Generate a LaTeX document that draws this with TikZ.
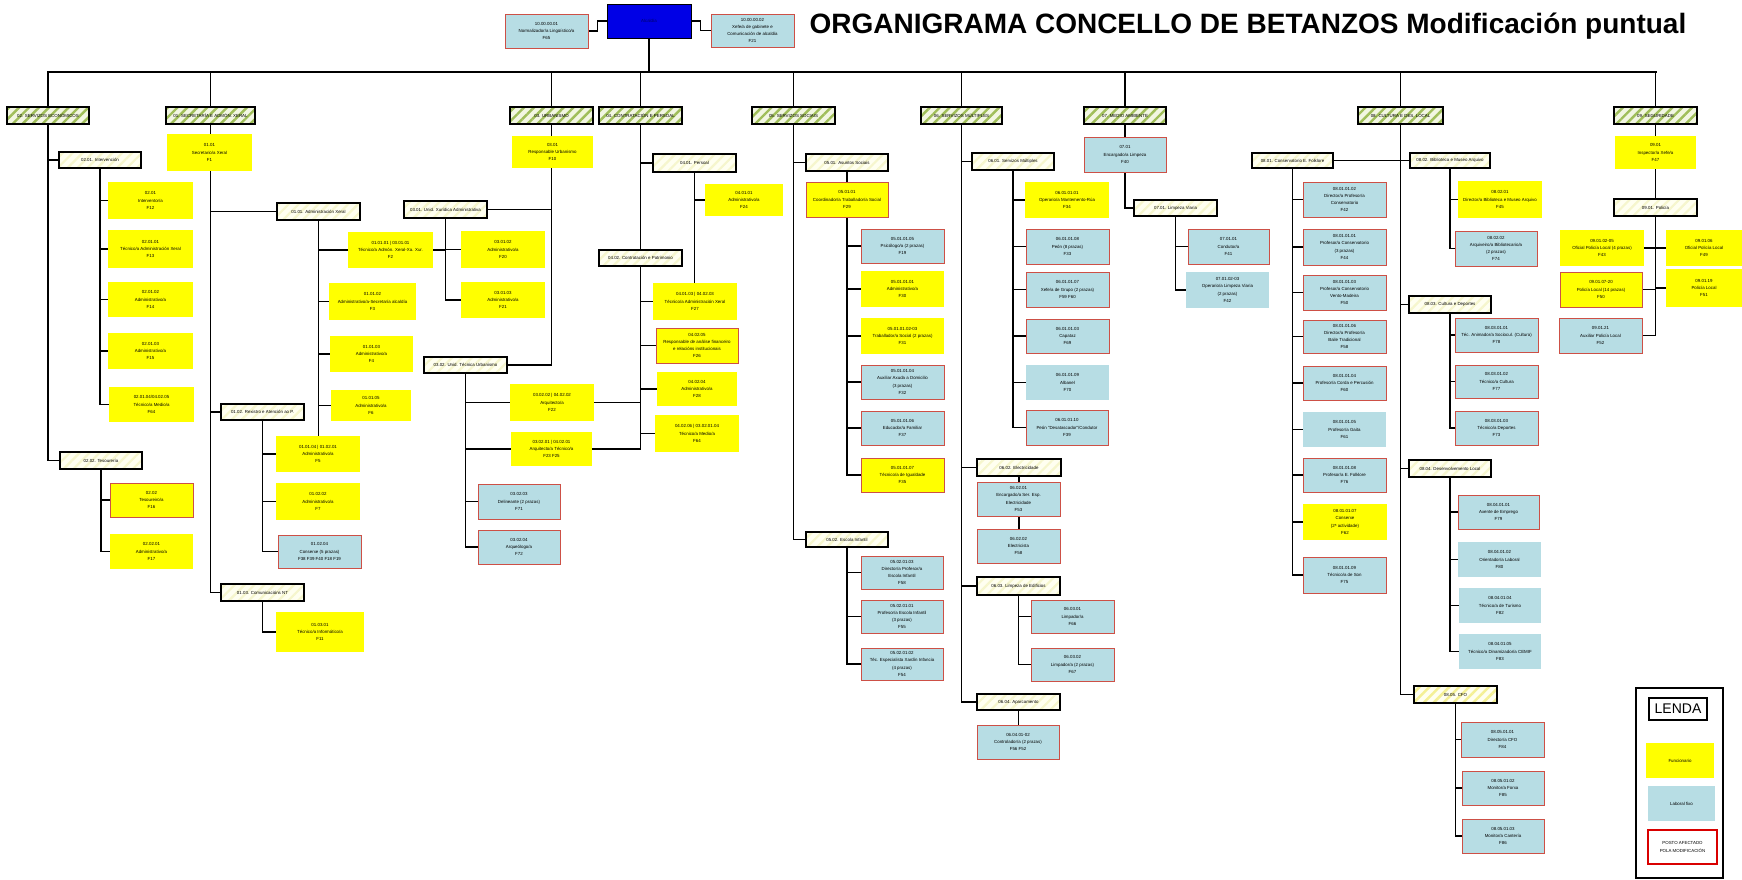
\documentclass[tikz,border=0pt]{standalone}
\usepackage{fontspec}
\setmainfont{Liberation Sans}
\usetikzlibrary{patterns.meta}
\pgfdeclarelayer{background}
\pgfsetlayers{background,main}
\definecolor{fyellow}{RGB}{255,255,0}
\definecolor{lblue}{RGB}{183,221,228}
\definecolor{redb}{RGB}{205,80,70}
\definecolor{alcblue}{RGB}{0,0,230}
\definecolor{depbg}{RGB}{242,246,226}
\definecolor{depst}{RGB}{160,190,90}
\definecolor{ivory}{RGB}{255,255,240}
\definecolor{subst}{RGB}{246,246,205}
\definecolor{cfost}{RGB}{244,240,150}
\newcommand{\boxfont}{\fontsize{4.4}{7.2}\selectfont}
\newcommand{\mkbox}[7]{\node[#1, minimum width={(#5)-(#3)}, minimum height={(#6)-(#4)}] (#2) at ({((#3)+(#5))/2},{((#4)+(#6))/2}) {#7};}
\tikzset{
 box/.style={rectangle, inner sep=0pt, align=center, font=\boxfont},
 fy/.style={box, fill=fyellow},
 fyr/.style={box, fill=fyellow, draw=redb, line width=0.8pt},
 lb/.style={box, fill=lblue, draw=redb, line width=0.8pt},
 lbn/.style={box, fill=lblue},
 sub/.style={box, preaction={fill=ivory}, pattern={Lines[angle=45,distance=7pt,line width=2.2pt]}, pattern color=subst, draw=black, line width=1.4pt},
 cfo/.style={box, preaction={fill=ivory}, pattern={Lines[angle=45,distance=7pt,line width=2.5pt]}, pattern color=cfost, draw=black, line width=1.4pt},
 dep/.style={box, preaction={fill=depbg}, pattern={Lines[angle=45,distance=7pt,line width=2.4pt]}, pattern color=depst, draw=black, line width=1.7pt},
 ln/.style={line width=1.8pt, line cap=rect},
 busln/.style={line width=2.6pt, line cap=rect},
}
\begin{document}
\begin{tikzpicture}[x=1pt,y=-1pt]
\useasboundingbox (0,0) rectangle (1742,879);
% ---- top
\node[anchor=base west, font=\fontsize{28}{30}\bfseries\selectfont] (title) at (806,33) {ORGANIGRAMA CONCELLO DE BETANZOS Modificación puntual};
\mkbox{box, fill=alcblue, draw=black, line width=0.8pt, text=blue!40!black}{alc}{607}{4}{691}{38}{Alcaldía}
\mkbox{lb}{norm}{505}{14}{588}{48}{10.00.00.01\\Normalizador/a Lingüístico/a\\F65}
\mkbox{lb}{xefe}{711}{14}{794}{47}{10.00.00.02\\Xefe/a de gabinete e\\Comunicación de alcaldía\\F21}
\coordinate (bus) at (649,72);
% ---- departments
\mkbox{dep}{d02}{7}{107}{89}{124}{02. SERVIZOS ECONÓMICOS}
\mkbox{dep}{d01}{166}{107}{255}{124}{01. SECRETARÍA E ADMÓN. XERAL}
\mkbox{dep}{d03}{510}{107}{593}{124}{03. URBANISMO}
\mkbox{dep}{d04}{599}{107}{682}{124}{04. CONTRATACIÓN E PERSOAL}
\mkbox{dep}{d05}{752}{107}{835}{124}{05. SERVIZOS SOCIAIS}
\mkbox{dep}{d06}{921}{107}{1002}{124}{06. SERVIZOS MÚLTIPLES}
\mkbox{dep}{d07}{1084}{107}{1166}{124}{07. MEDIO AMBIENTE}
\mkbox{dep}{d08}{1358}{107}{1443}{124}{08. CULTURA E DES. LOCAL}
\mkbox{dep}{d09}{1614}{107}{1697}{124}{09. SEGURIDADE}
% ---- 02
\mkbox{sub}{s0201}{59}{152}{141}{168}{02.01. Intervención}
\mkbox{fy}{c0201a}{108}{182}{193}{219}{02.01\\Interventor/a\\F12}
\mkbox{fy}{c0201b}{108}{230}{193}{268}{02.01.01\\Técnico/a Administración Xeral\\F13}
\mkbox{fy}{c0201c}{108}{282}{193}{317}{02.01.02\\Administrativo/a\\F14}
\mkbox{fy}{c0201d}{108}{333}{193}{369}{02.01.03\\Administrativo/a\\F15}
\mkbox{fy}{c0201e}{109}{387}{194}{422}{02.01.04/04.02.05\\Técnico/a Medio/a\\F64}
\mkbox{sub}{s0202}{60}{452}{142}{469}{02.02. Tesourería}
\mkbox{fyr}{c0202a}{110}{483}{193}{517}{02.02\\Tesoureiro/a\\F16}
\mkbox{fy}{c0202b}{110}{534}{193}{569}{02.02.01\\Administrativo/a\\F17}
% ---- 01
\mkbox{fy}{c0101}{167}{134}{252}{171}{01.01\\Secretario/a Xeral\\F1}
\mkbox{sub}{s0101}{277}{203}{360}{220}{01.01. Administración Xeral}
\mkbox{fy}{c0101a}{348}{232}{433}{268}{01.01.01 | 03.01.01\\Técnico/a Admón. Xeral-Xa. Xur.\\F2}
\mkbox{fy}{c0101b}{329}{283}{416}{320}{01.01.02\\Administrativo/a-Secretaría alcaldía\\F3}
\mkbox{fy}{c0101c}{330}{336}{413}{372}{01.01.03\\Administrativo/a\\F4}
\mkbox{fy}{c0101d}{331}{390}{411}{421}{01.01.05\\Administrativo/a\\F6}
\mkbox{sub}{s0102}{221}{404}{304}{420}{01.02. Rexistro e Atención ao P.}
\mkbox{fy}{c0102a}{276}{436}{360}{472}{01.01.04 | 01.02.01\\Administrativo/a\\F5}
\mkbox{fy}{c0102b}{276}{483}{360}{520}{01.02.02\\Administrativo/a\\F7}
\mkbox{lb}{c0102c}{278}{535}{361}{568}{01.02.04\\Conserxe (5 prazas)\\F38 F39 F40 F18 F19}
\mkbox{sub}{s0103}{221}{584}{304}{601}{01.03. Comunicacións NT}
\mkbox{fy}{c0103a}{276}{612}{364}{652}{01.03.01\\Técnico/a Informático/a\\F11}
% ---- 03
\mkbox{fy}{c0301}{512}{136}{593}{168}{03.01\\Responsable Urbanismo\\F10}
\mkbox{sub}{s0301}{404}{201}{487}{218}{03.01. Unid. Xurídica Administrativa}
\mkbox{fy}{c0301a}{461}{231}{545}{268}{03.01.02\\Administrativo/a\\F20}
\mkbox{fy}{c0301b}{461}{282}{545}{318}{03.01.03\\Administrativo/a\\F21}
\mkbox{sub}{s0302}{424}{357}{507}{373}{03.02. Unid. Técnica Urbanismo}
\mkbox{fy}{c0302a}{510}{384}{594}{421}{03.02.02 | 04.02.02\\Arquitecto/a\\F22}
\mkbox{fy}{c0302b}{511}{432}{592}{466}{03.02.01 | 04.02.01\\Arquitecto/a Técnico/a\\F23 F25}
\mkbox{lb}{c0302c}{478}{484}{560}{519}{03.02.03\\Delineante (2 prazas)\\F71}
\mkbox{lb}{c0302d}{478}{530}{560}{564}{03.02.04\\Arqueólogo/a\\F72}
% ---- 04
\mkbox{sub}{s0401}{653}{154}{736}{172}{04.01. Persoal}
\mkbox{fy}{c0401a}{705}{184}{783}{216}{04.01.01\\Administrativo/a\\F24}
\mkbox{sub}{s0402}{599}{250}{682}{266}{04.02. Contratación e Patrimonio}
\mkbox{fy}{c0401b}{653}{283}{737}{320}{04.01.03 | 04.02.03\\Técnico/a Administración Xeral\\F27}
\mkbox{fyr}{c0402a}{656}{328}{738}{363}{04.02.05\\Responsable de análise financeiro\\e relacións institucionais\\F26}
\mkbox{fy}{c0402b}{657}{372}{737}{406}{04.02.04\\Administrativo/a\\F28}
\mkbox{fy}{c0402c}{655}{415}{739}{452}{04.02.06 | 03.02.01.04\\Técnico/a Medio/a\\F64}
% ---- 05
\mkbox{sub}{s0501}{806}{154}{888}{171}{05.01. Asuntos Sociais}
\mkbox{fyr}{c0501}{806}{182}{888}{217}{05.01.01\\Coordinador/a Traballador/a Social\\F29}
\mkbox{lb}{c0501a}{861}{229}{944}{263}{05.01.01.05\\Psicólogo/a (2 prazas)\\F19}
\mkbox{fy}{c0501b}{861}{271}{944}{307}{05.01.01.01\\Administrativo/a\\F30}
\mkbox{fy}{c0501c}{861}{318}{944}{354}{05.01.01.02-03\\Traballador/a Social (2 prazas)\\F31}
\mkbox{lb}{c0501d}{861}{365}{944}{399}{05.01.01.04\\Auxiliar Axuda a Domicilio\\(3 prazas)\\F32}
\mkbox{lb}{c0501e}{861}{411}{944}{445}{05.01.01.06\\Educador/a Familiar\\F37}
\mkbox{fyr}{c0501f}{861}{458}{944}{492}{05.01.01.07\\Técnico/a de Igualdade\\F35}
\mkbox{sub}{s0502}{806}{532}{888}{547}{05.02. Escola Infantil}
\mkbox{lb}{c0502a}{861}{556}{943}{589}{05.02.01.03\\Director/a Profesor/a\\Escola Infantil\\F58}
\mkbox{lb}{c0502b}{861}{600}{943}{633}{05.02.01.01\\Profesor/a Escola Infantil\\(3 prazas)\\F55}
\mkbox{lb}{c0502c}{861}{648}{943}{680}{05.02.01.02\\Téc. Especialista Xardín Infancia\\(4 prazas)\\F54}
% ---- 06
\mkbox{sub}{s0601}{972}{153}{1054}{170}{06.01. Servizos Múltiples}
\mkbox{fy}{c0601a}{1025}{182}{1109}{218}{06.01.01.01\\Operario/a Mantemento-Rúa\\F34}
\mkbox{lb}{c0601b}{1026}{229}{1109}{264}{06.01.01.08\\Peón (8 prazas)\\F33}
\mkbox{lb}{c0601c}{1026}{272}{1109}{307}{06.01.01.07\\Xefe/a de Grupo (2 prazas)\\F59 F60}
\mkbox{lb}{c0601d}{1026}{319}{1109}{353}{06.01.01.03\\Capataz\\F69}
\mkbox{lbn}{c0601e}{1026}{365}{1109}{400}{06.01.01.09\\Albanel\\F70}
\mkbox{lb}{c0601f}{1026}{410}{1108}{445}{06.01.01.10\\Peón "Desatascador"/Condutor\\F39}
\mkbox{sub}{s0602}{977}{459}{1061}{476}{06.02. Electricidade}
\mkbox{lb}{c0602a}{977}{482}{1060}{516}{06.02.01\\Encargado/a Ser. Esp.\\Electricidade\\F53}
\mkbox{lb}{c0602b}{977}{529}{1060}{563}{06.02.02\\Electricista\\F58}
\mkbox{sub}{s0603}{977}{577}{1060}{595}{06.03. Limpeza de Edificios}
\mkbox{lb}{c0603a}{1031}{600}{1114}{633}{06.03.01\\Limpador/a\\F66}
\mkbox{lb}{c0603b}{1031}{648}{1114}{681}{06.03.02\\Limpador/a (2 prazas)\\F67}
\mkbox{sub}{s0604}{977}{694}{1060}{710}{06.04. Aparcamento}
\mkbox{lb}{c0604a}{977}{725}{1059}{759}{06.04.01-02\\Controlador/a (2 prazas)\\F56 F52}
% ---- 07
\mkbox{lb}{c0701}{1084}{137}{1166}{172}{07.01\\Encargado/a Limpeza\\F40}
\mkbox{sub}{s0701}{1134}{200}{1217}{216}{07.01. Limpeza Viaria}
\mkbox{lb}{c0701a}{1188}{229}{1269}{264}{07.01.01\\Condutor/a\\F41}
\mkbox{lbn}{c0701b}{1186}{272}{1269}{308}{07.01.02-03\\Operario/a Limpeza Viaria\\(2 prazas)\\F42}
% ---- 08
\mkbox{sub}{s0801}{1252}{153}{1333}{168}{08.01. Conservatorio E. Folklore}
\mkbox{lb}{c0801a}{1303}{182}{1386}{217}{08.01.01.02\\Director/a Profesor/a\\Conservatorio\\F42}
\mkbox{lb}{c0801b}{1303}{229}{1386}{265}{08.01.01.01\\Profesor/a Conservatorio\\(3 prazas)\\F44}
\mkbox{lb}{c0801c}{1303}{275}{1386}{310}{08.01.01.03\\Profesor/a Conservatorio\\Vento-Madeira\\F50}
\mkbox{lb}{c0801d}{1303}{320}{1386}{353}{08.01.01.06\\Director/a Profesor/a\\Baile Tradicional\\F58}
\mkbox{lb}{c0801e}{1303}{366}{1386}{400}{08.01.01.04\\Profesor/a Corda e Percusión\\F60}
\mkbox{lbn}{c0801f}{1303}{412}{1386}{447}{08.01.01.05\\Profesor/a Gaita\\F61}
\mkbox{lb}{c0801g}{1303}{458}{1386}{492}{08.01.01.08\\Profesor/a E. Folklore\\F76}
\mkbox{fy}{c0801h}{1303}{504}{1387}{540}{08.01.01.07\\Conserxe\\(2ª actividade)\\F62}
\mkbox{lb}{c0801i}{1303}{557}{1386}{593}{08.01.01.09\\Técnico/a de Son\\F75}
\mkbox{sub}{s0802}{1410}{153}{1490}{168}{08.02. Biblioteca e Museo Arquivo}
\mkbox{fy}{c0802a}{1458}{181}{1542}{218}{08.02.01\\Director/a Biblioteca e Museo Arquivo\\F45}
\mkbox{lb}{c0802b}{1455}{231}{1537}{266}{08.02.02\\Arquiveiro/a Bibliotecario/a\\(2 prazas)\\F74}
\mkbox{sub}{s0803}{1409}{296}{1491}{313}{08.03. Cultura e Deportes}
\mkbox{lb}{c0803a}{1455}{318}{1538}{352}{08.03.01.01\\Téc. Animador/a Sociocul. (Cultura)\\F78}
\mkbox{lb}{c0803b}{1455}{365}{1538}{398}{08.03.01.02\\Técnico/a Cultura\\F77}
\mkbox{lb}{c0803c}{1455}{411}{1538}{445}{08.03.01.03\\Técnico/a Deportes\\F73}
\mkbox{sub}{s0804}{1409}{460}{1491}{477}{08.04. Desenvolvemento Local}
\mkbox{lb}{c0804a}{1458}{495}{1539}{529}{08.04.01.01\\Axente de Emprego\\F79}
\mkbox{lbn}{c0804b}{1458}{542}{1541}{577}{08.04.01.02\\Orientador/a Laboral\\F80}
\mkbox{lbn}{c0804c}{1459}{588}{1541}{623}{08.04.01.04\\Técnico/a de Turismo\\F82}
\mkbox{lbn}{c0804d}{1459}{634}{1541}{669}{08.04.01.05\\Técnico/a Dinamizador/a CEMIF\\F83}
\mkbox{cfo}{s0805}{1414}{686}{1497}{703}{08.05. CFO}
\mkbox{lb}{c0805a}{1461}{722}{1544}{757}{08.05.01.01\\Director/a CFO\\F84}
\mkbox{lb}{c0805b}{1462}{771}{1544}{805}{08.05.01.02\\Monitor/a Forxa\\F85}
\mkbox{lb}{c0805c}{1462}{819}{1544}{853}{08.05.01.03\\Monitor/a Cantería\\F86}
% ---- 09
\mkbox{fy}{c0901}{1615}{136}{1696}{169}{09.01\\Inspector/a Xefe/a\\F47}
\mkbox{sub}{s0901}{1614}{199}{1697}{216}{09.01. Policía}
\mkbox{fy}{c0901a}{1560}{230}{1644}{266}{09.01.02-05\\Oficial Policía Local (4 prazas)\\F43}
\mkbox{fy}{c0901b}{1666}{230}{1742}{266}{09.01.06\\Oficial Policía Local\\F49}
\mkbox{fyr}{c0901c}{1560}{272}{1642}{307}{09.01.07-20\\Policía Local (14 prazas)\\F50}
\mkbox{fy}{c0901d}{1666}{269}{1742}{307}{09.01.19\\Policía Local\\F51}
\mkbox{lb}{c0901e}{1559}{318}{1642}{353}{09.01.21\\Auxiliar Policía Local\\F52}
% ---- legend
\mkbox{box, draw=black, line width=1.3pt, fill=white}{leg}{1636}{688}{1723}{878}{}
\mkbox{box, draw=black, line width=1.3pt, font=\fontsize{14}{16}\selectfont}{lenda}{1649}{698}{1707}{720}{LENDA}
\mkbox{fy}{legf}{1646}{743}{1714}{778}{Funcionario}
\mkbox{lbn}{legl}{1648}{786}{1715}{821}{Laboral fixo}
\mkbox{box, draw=red!85!black, line width=2pt, fill=white}{legp}{1648}{830}{1717}{864}{POSTO AFECTADO\\POLA MODIFICACIÓN}
% ================= connectors
\begin{pgfonlayer}{background}
\fill[white] (0,0) rectangle (1742,879);
\draw[ln] (norm.east) -- ++(9,0) |- (alc.west);
\draw[ln] (alc.east) -- ++(9,0) |- (xefe.west);
\draw[busln] (alc.south) -- (bus);
\draw[busln] (d02.north |- bus) -- (d09.north |- bus);
\foreach \d in {d02,d01,d03,d04,d05,d06,d07,d08,d09} \draw[ln] (\d.north) -- (\d.north |- bus);
% 02
\draw[ln] (d02.south) -- (d02.south |- s0202.west) -- (s0202.west);
\draw[ln] (s0201.west) -- (s0201.west -| d02.south);
\draw[ln] (s0201.south) -- (s0201.south |- c0201e.west);
\foreach \c in {c0201a,c0201b,c0201c,c0201d,c0201e} \draw[ln] (\c.west) -- (\c.west -| s0201.south);
\draw[ln] (s0202.south) -- (s0202.south |- c0202b.west);
\foreach \c in {c0202a,c0202b} \draw[ln] (\c.west) -- (\c.west -| s0202.south);
% 01
\draw[ln] (d01.south) -- (d01.south |- s0103.west) -- (s0103.west);
\foreach \c in {s0101,s0102} \draw[ln] (\c.west) -- (\c.west -| d01.south);
\draw[ln] (s0101.south) -- (s0101.south |- c0102a.north);
\foreach \c in {c0101a,c0101b,c0101c,c0101d} \draw[ln] (\c.west) -- (\c.west -| s0101.south);
\draw[ln] (c0101a.east) -- (c0101a.east -| s0301.south);
\draw[ln] (s0102.south) -- (s0102.south |- c0102c.west);
\foreach \c in {c0102a,c0102b,c0102c} \draw[ln] (\c.west) -- (\c.west -| s0102.south);
\draw[ln] (s0103.south) |- (c0103a.west);
% 03
\draw[ln] (d03.south) -- (d03.south |- s0302.east) -- (s0302.east);
\draw[ln] (s0301.east) -- (s0301.east -| d03.south);
\draw[ln] (s0301.south) -- (s0301.south |- c0301b.west);
\foreach \c in {c0301a,c0301b} \draw[ln] (\c.west) -- (\c.west -| s0301.south);
\draw[ln] (s0302.south) -- (s0302.south |- c0302d.west);
\foreach \c in {c0302a,c0302b,c0302c,c0302d} \draw[ln] (\c.west) -- (\c.west -| s0302.south);
\foreach \c in {c0302a,c0302b} \draw[ln] (\c.east) -- (\c.east -| d04.south);
% 04
\draw[ln] (d04.south) -- (d04.south |- c0302b.east);
\draw[ln] (s0401.west) -- (s0401.west -| d04.south);
\draw[ln] (s0401.south) -- (s0401.south |- c0401b.north);
\draw[ln] (c0401a.west) -- (c0401a.west -| s0401.south);
\foreach \c in {c0401b,c0402a,c0402b,c0402c} \draw[ln] (\c.west) -- (\c.west -| d04.south);
% 05
\draw[ln] (d05.south) -- (d05.south |- s0502.west) -- (s0502.west);
\draw[ln] (s0501.west) -- (s0501.west -| d05.south);
\draw[ln] (s0501.south) -- (s0501.south |- c0501f.west);
\foreach \c in {c0501a,c0501b,c0501c,c0501d,c0501e,c0501f} \draw[ln] (\c.west) -- (\c.west -| s0501.south);
\draw[ln] (s0502.south) -- (s0502.south |- c0502c.west);
\foreach \c in {c0502a,c0502b,c0502c} \draw[ln] (\c.west) -- (\c.west -| s0502.south);
% 06
\draw[ln] (d06.south) -- (d06.south |- s0604.west) -- (s0604.west);
\foreach \c in {s0601,s0602,s0603} \draw[ln] (\c.west) -- (\c.west -| d06.south);
\draw[ln] (s0601.south) -- (s0601.south |- c0601f.west);
\foreach \c in {c0601a,c0601b,c0601c,c0601d,c0601e,c0601f} \draw[ln] (\c.west) -- (\c.west -| s0601.south);
\draw[ln] (s0602.south) -- (s0602.south |- c0602b.north);
\draw[ln] (s0603.south) -- (s0603.south |- c0603b.west);
\foreach \c in {c0603a,c0603b} \draw[ln] (\c.west) -- (\c.west -| s0603.south);
\draw[ln] (s0604.south) -- (s0604.south |- c0604a.north);
% 07
\draw[ln] (d07.south) -- (c0701.north);
\draw[ln] (c0701.south) |- (s0701.west);
\draw[ln] (s0701.south) -- (s0701.south |- c0701b.west);
\foreach \c in {c0701a,c0701b} \draw[ln] (\c.west) -- (\c.west -| s0701.south);
% 08
\draw[ln] (d08.south) -- (d08.south |- s0805.west) -- (s0805.west);
\draw[ln] (s0801.east) -- (s0802.west);
\foreach \c in {s0803,s0804} \draw[ln] (\c.west) -- (\c.west -| d08.south);
\draw[ln] (s0801.south) -- (s0801.south |- c0801i.west);
\foreach \c in {c0801a,c0801b,c0801c,c0801d,c0801e,c0801f,c0801g,c0801h,c0801i} \draw[ln] (\c.west) -- (\c.west -| s0801.south);
\draw[ln] (s0802.south) -- (s0802.south |- c0802b.west);
\foreach \c in {c0802a,c0802b} \draw[ln] (\c.west) -- (\c.west -| s0802.south);
\draw[ln] (s0803.south) -- (s0803.south |- c0803c.west);
\foreach \c in {c0803a,c0803b,c0803c} \draw[ln] (\c.west) -- (\c.west -| s0803.south);
\draw[ln] (s0804.south) -- (s0804.south |- c0804d.west);
\foreach \c in {c0804a,c0804b,c0804c,c0804d} \draw[ln] (\c.west) -- (\c.west -| s0804.south);
\draw[ln] (s0805.south) -- (s0805.south |- c0805c.west);
\foreach \c in {c0805a,c0805b,c0805c} \draw[ln] (\c.west) -- (\c.west -| s0805.south);
% 09
\draw[ln] (d09.south) -- (c0901.north);
\draw[ln] (c0901.south) -- (s0901.north);
\draw[ln] (s0901.south) -- (s0901.south |- c0901e.east);
\foreach \c in {c0901a,c0901c,c0901e} \draw[ln] (\c.east) -- (\c.east -| s0901.south);
\foreach \c in {c0901b,c0901d} \draw[ln] (\c.west) -- (\c.west -| s0901.south);
\end{pgfonlayer}
\end{tikzpicture}
\end{document}
